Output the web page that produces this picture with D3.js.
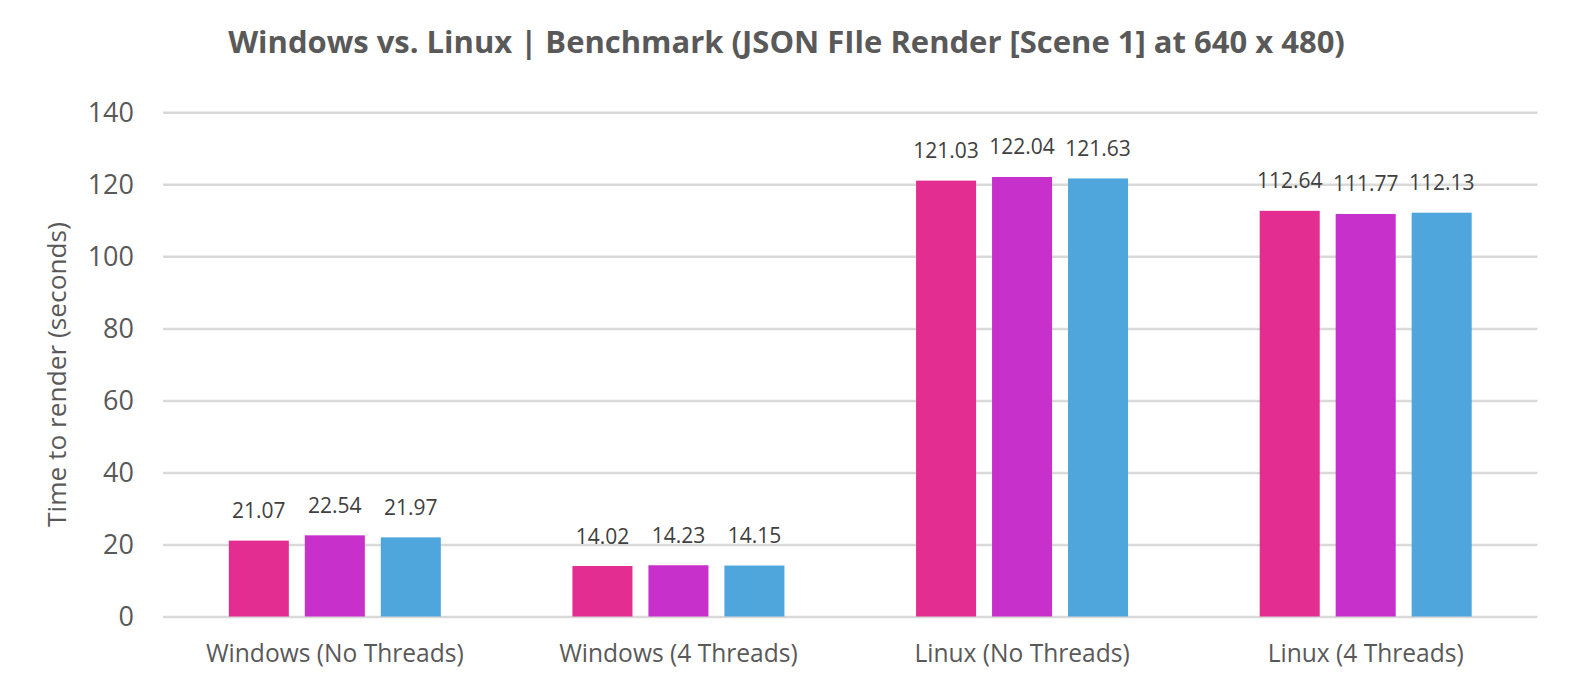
<!DOCTYPE html>
<html>
<head>
<meta charset="utf-8">
<script src="https://cdn.jsdelivr.net/npm/d3@7"></script>
<style>
  html, body { margin: 0; padding: 0; background: #fff; }
  svg { display: block; }
  text { font-family: "Open Sans", "Noto Sans", sans-serif; }
</style>
</head>
<body>
<svg id="chart" width="1575" height="691"></svg>
<script>
const title = "Windows vs. Linux | Benchmark (JSON FIle Render [Scene 1] at 640 x 480)";
const yAxisTitle = "Time to render (seconds)";
const categories = ["Windows (No Threads)", "Windows (4 Threads)", "Linux (No Threads)", "Linux (4 Threads)"];
const seriesNames = ["Run 1", "Run 2", "Run 3"];
const run1 = [21.07, 14.02, 121.03, 112.64];
const run2 = [22.54, 14.23, 122.04, 111.77];
const run3 = [21.97, 14.15, 121.63, 112.13];
const yTicks = [0, 20, 40, 60, 80, 100, 120, 140];
const colors = ["#E32D91", "#C830CC", "#4EA6DC"];

const seriesValues = [run1, run2, run3];

const svg = d3.select("#chart");
const margin = { left: 163, right: 1575 - 1537.5, top: 112.3, bottom: 691 - 616.5 };
const W = 1575, H = 691;

const x0 = d3.scaleBand().domain(categories).range([margin.left, W - margin.right]).padding(0);
const groupWidth = 212;
const x1 = d3.scaleBand().domain(seriesNames).range([-groupWidth / 2, groupWidth / 2]).paddingInner(0.21).paddingOuter(0);
const y = d3.scaleLinear().domain([0, 140]).range([H - margin.bottom, margin.top]);

function fit(sel, target) {
  sel.each(function () {
    const len = this.getComputedTextLength();
    const fs = parseFloat(d3.select(this).attr("font-size"));
    d3.select(this).attr("font-size", fs * target / len);
  });
}

// Gridlines
const grid = svg.append("g")
  .attr("transform", `translate(${margin.left},0)`)
  .call(d3.axisLeft(y).tickValues(yTicks).tickSize(-(W - margin.right - margin.left)).tickFormat(""));
grid.select(".domain").remove();
grid.selectAll("line").attr("stroke", "#D9D9D9").attr("stroke-width", 2.5);

// Y tick labels
const yAxis = svg.append("g")
  .attr("transform", `translate(134,0)`)
  .call(d3.axisLeft(y).tickValues(yTicks).tickSize(0).tickPadding(0));
yAxis.select(".domain").remove();
yAxis.selectAll("text")
  .attr("font-size", 27)
  .attr("fill", "#595959")
  .attr("dy", "0.35em")
  .style("font-family", "'Open Sans', sans-serif");

// Bars
const groups = svg.append("g").selectAll("g")
  .data(categories)
  .join("g")
  .attr("transform", d => `translate(${x0(d) + x0.bandwidth() / 2},0)`);

const barData = (c, i) => seriesNames.map((s, k) => ({ s, k, v: seriesValues[k][i] }));

groups.selectAll("rect")
  .data((c, i) => barData(c, i))
  .join("rect")
  .attr("x", d => x1(d.s))
  .attr("width", x1.bandwidth())
  .attr("y", d => y(d.v))
  .attr("height", d => y(0) - y(d.v))
  .attr("fill", d => colors[d.k]);

// Data labels
groups.selectAll("text.lbl")
  .data((c, i) => barData(c, i))
  .join("text")
  .attr("class", "lbl")
  .attr("x", d => x1(d.s) + x1.bandwidth() / 2)
  .attr("y", d => y(d.v) - 22.5)
  .attr("text-anchor", "middle")
  .attr("font-size", 21)
  .attr("fill", "#404040")
  .text(d => d.v.toFixed(2));

// X category labels
const xAxis = svg.append("g")
  .attr("transform", `translate(0,${y(0)})`)
  .call(d3.axisBottom(x0).tickSize(0).tickPadding(0));
xAxis.select(".domain").remove();
xAxis.selectAll("text")
  .attr("font-size", 22)
  .attr("fill", "#595959")
  .attr("dy", 0)
  .attr("y", 662 - y(0))
  .style("font-family", "'Open Sans', sans-serif");
fit(xAxis.selectAll("text").filter(d => d === categories[0]), 258);
const catFs = xAxis.selectAll("text").filter(d => d === categories[0]).attr("font-size");
xAxis.selectAll("text").attr("font-size", catFs);

// Title
const t = svg.append("text")
  .attr("x", 786.5)
  .attr("y", 53.3)
  .attr("text-anchor", "middle")
  .attr("font-size", 26)
  .attr("font-weight", "bold")
  .attr("fill", "#595959")
  .text(title);
fit(t, 1117);

// Y axis title
const yt = svg.append("text")
  .attr("transform", `translate(66,374.5) rotate(-90)`)
  .attr("text-anchor", "middle")
  .attr("font-size", 19)
  .attr("fill", "#595959")
  .text(yAxisTitle);
fit(yt, 305);
</script>
</body>
</html>
